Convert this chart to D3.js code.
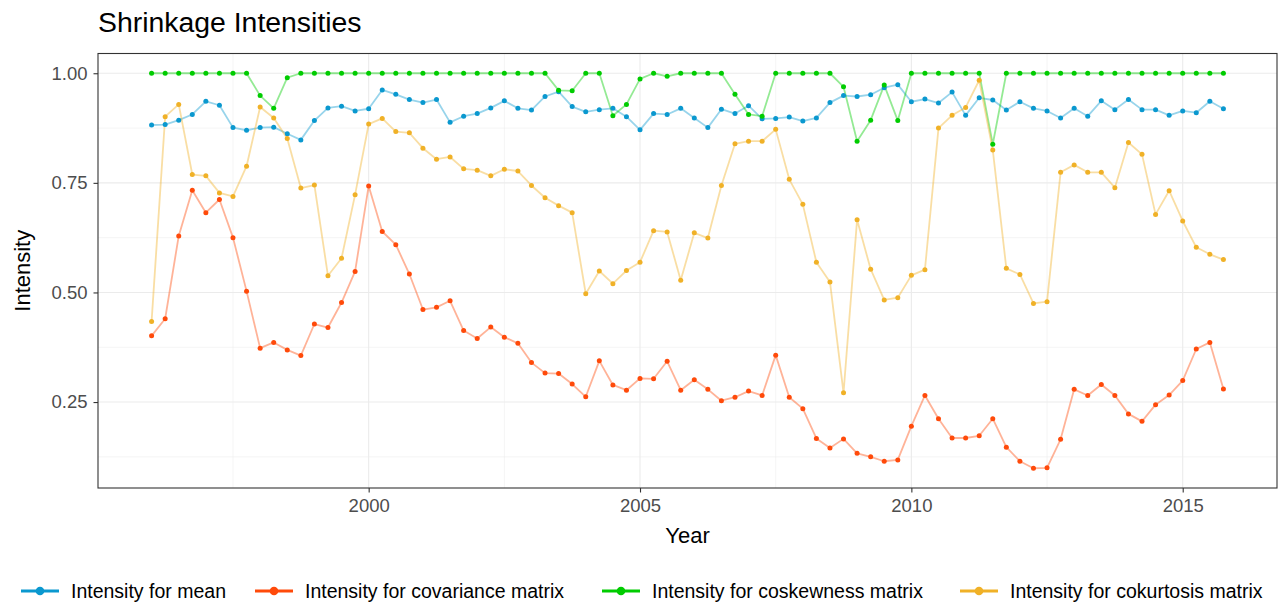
<!DOCTYPE html>
<html>
<head>
<meta charset="utf-8">
<script src="https://cdn.jsdelivr.net/npm/d3@7/dist/d3.min.js"></script>
<style>
  html, body { margin: 0; padding: 0; background: #fff; }
  svg { display: block; font-family: "Liberation Sans", Arial, Helvetica, sans-serif; }
</style>
</head>
<body>
<svg id="chart" width="1282" height="607"></svg>
<script>
// Quarterly shrinkage intensities, 1996 Q1 – 2015 Q4
const startYear = 1996;
const nQuarters = 80;

const meanIntensity = [
  0.882, 0.883, 0.893, 0.906, 0.936, 0.927, 0.876, 0.870, 0.876, 0.877,
  0.862, 0.848, 0.892, 0.921, 0.925, 0.914, 0.919, 0.962, 0.952, 0.940,
  0.933, 0.940, 0.888, 0.902, 0.908, 0.921, 0.937, 0.920, 0.916, 0.947,
  0.958, 0.924, 0.912, 0.917, 0.920, 0.901, 0.871, 0.908, 0.906, 0.920,
  0.898, 0.876, 0.918, 0.908, 0.926, 0.896, 0.897, 0.900, 0.891, 0.898,
  0.933, 0.949, 0.947, 0.951, 0.967, 0.974, 0.935, 0.941, 0.932, 0.957,
  0.904, 0.944, 0.939, 0.916, 0.935, 0.920, 0.914, 0.898, 0.920, 0.902,
  0.937, 0.917, 0.940, 0.917, 0.917, 0.904, 0.914, 0.910, 0.936, 0.919
];

const covarianceIntensity = [
  0.401, 0.440, 0.629, 0.733, 0.682, 0.712, 0.625, 0.503, 0.373, 0.386,
  0.369, 0.356, 0.428, 0.420, 0.477, 0.548, 0.743, 0.639, 0.609, 0.542,
  0.461, 0.466, 0.481, 0.413, 0.395, 0.421, 0.398, 0.384, 0.340, 0.316,
  0.315, 0.291, 0.262, 0.344, 0.289, 0.277, 0.304, 0.303, 0.343, 0.277,
  0.301, 0.279, 0.253, 0.261, 0.275, 0.265, 0.357, 0.261, 0.235, 0.167,
  0.145, 0.166, 0.133, 0.125, 0.115, 0.118, 0.195, 0.265, 0.212, 0.168,
  0.168, 0.173, 0.212, 0.147, 0.115, 0.099, 0.100, 0.165, 0.279, 0.265,
  0.290, 0.265, 0.223, 0.206, 0.244, 0.266, 0.299, 0.371, 0.386, 0.280
];

const coskewnessIntensity = [
  1.000, 1.000, 1.000, 1.000, 1.000, 1.000, 1.000, 1.000, 0.949, 0.920,
  0.990, 1.000, 1.000, 1.000, 1.000, 1.000, 1.000, 1.000, 1.000, 1.000,
  1.000, 1.000, 1.000, 1.000, 1.000, 1.000, 1.000, 1.000, 1.000, 1.000,
  0.961, 0.960, 1.000, 1.000, 0.903, 0.929, 0.987, 1.000, 0.993, 1.000,
  1.000, 1.000, 1.000, 0.952, 0.906, 0.902, 1.000, 1.000, 1.000, 1.000,
  1.000, 0.969, 0.845, 0.893, 0.973, 0.892, 1.000, 1.000, 1.000, 1.000,
  1.000, 1.000, 0.838, 1.000, 1.000, 1.000, 1.000, 1.000, 1.000, 1.000,
  1.000, 1.000, 1.000, 1.000, 1.000, 1.000, 1.000, 1.000, 1.000, 1.000
];

const cokurtosisIntensity = [
  0.434, 0.901, 0.929, 0.769, 0.766, 0.727, 0.719, 0.788, 0.923, 0.898,
  0.851, 0.738, 0.745, 0.538, 0.578, 0.723, 0.884, 0.897, 0.867, 0.864,
  0.829, 0.804, 0.809, 0.782, 0.779, 0.766, 0.781, 0.777, 0.744, 0.716,
  0.698, 0.682, 0.497, 0.549, 0.520, 0.550, 0.569, 0.641, 0.638, 0.528,
  0.636, 0.624, 0.744, 0.839, 0.845, 0.845, 0.872, 0.758, 0.701, 0.569,
  0.524, 0.271, 0.666, 0.553, 0.483, 0.488, 0.539, 0.552, 0.875, 0.904,
  0.922, 0.984, 0.825, 0.555, 0.541, 0.475, 0.479, 0.774, 0.791, 0.774,
  0.774, 0.739, 0.842, 0.815, 0.678, 0.732, 0.663, 0.603, 0.587, 0.575
];

const seriesNames = [
  "Intensity for mean",
  "Intensity for covariance matrix",
  "Intensity for coskewness matrix",
  "Intensity for cokurtosis matrix"
];
const seriesColors = ["#0A98CF", "#FF4A0A", "#00CC00", "#F0B127"];
const seriesValues = [meanIntensity, covarianceIntensity, coskewnessIntensity, cokurtosisIntensity];

const xTicks = [2000, 2005, 2010, 2015];
const xMinorTicks = [1997.5, 2002.5, 2007.5, 2012.5];
const yTicks = [0.25, 0.50, 0.75, 1.00];
const yMinorTicks = [0.125, 0.375, 0.625, 0.875];

const quarters = d3.range(nQuarters).map(i => startYear + i / 4);

const panel = { left: 98, right: 1277, top: 53.5, bottom: 488 };

// Data range padded by 5% on each side
const xExt = d3.extent(quarters);
const xPad = (xExt[1] - xExt[0]) * 0.05;
const allVals = seriesValues.flat();
const yExt = d3.extent(allVals);
const yPad = (yExt[1] - yExt[0]) * 0.05;

const x = d3.scaleLinear().domain([xExt[0] - xPad, xExt[1] + xPad]).range([panel.left, panel.right]);
const y = d3.scaleLinear().domain([yExt[0] - yPad, yExt[1] + yPad]).range([panel.bottom, panel.top]);

const svg = d3.select("#chart");

// Grid
const grid = svg.append("g");
grid.selectAll("line.xminor").data(xMinorTicks).join("line")
  .attr("x1", d => x(d)).attr("x2", d => x(d))
  .attr("y1", panel.top).attr("y2", panel.bottom)
  .attr("stroke", "#EBEBEB").attr("stroke-width", 0.55);
grid.selectAll("line.yminor").data(yMinorTicks).join("line")
  .attr("y1", d => y(d)).attr("y2", d => y(d))
  .attr("x1", panel.left).attr("x2", panel.right)
  .attr("stroke", "#EBEBEB").attr("stroke-width", 0.55);
grid.selectAll("line.xmajor").data(xTicks).join("line")
  .attr("x1", d => x(d)).attr("x2", d => x(d))
  .attr("y1", panel.top).attr("y2", panel.bottom)
  .attr("stroke", "#EBEBEB").attr("stroke-width", 1.1);
grid.selectAll("line.ymajor").data(yTicks).join("line")
  .attr("y1", d => y(d)).attr("y2", d => y(d))
  .attr("x1", panel.left).attr("x2", panel.right)
  .attr("stroke", "#EBEBEB").attr("stroke-width", 1.1);

// Lines
const line = d3.line().x((d, i) => x(quarters[i])).y(d => y(d));
seriesValues.forEach((vals, k) => {
  svg.append("path")
    .datum(vals)
    .attr("d", line)
    .attr("fill", "none")
    .attr("stroke", seriesColors[k])
    .attr("stroke-opacity", 0.42)
    .attr("stroke-width", 1.8)
    .attr("stroke-linejoin", "round");
});

// Points
seriesValues.forEach((vals, k) => {
  svg.append("g").selectAll("circle").data(vals).join("circle")
    .attr("cx", (d, i) => x(quarters[i]))
    .attr("cy", d => y(d))
    .attr("r", 2.5)
    .attr("fill", seriesColors[k]);
});

// Panel border
svg.append("rect")
  .attr("x", panel.left).attr("y", panel.top)
  .attr("width", panel.right - panel.left).attr("height", panel.bottom - panel.top)
  .attr("fill", "none").attr("stroke", "#333333").attr("stroke-width", 1.1);

// Axes
const xAxis = svg.append("g")
  .attr("transform", `translate(0,${panel.bottom})`)
  .call(d3.axisBottom(x).tickValues(xTicks).tickFormat(d3.format("d")).tickSize(4.5).tickPadding(6));
const yAxis = svg.append("g")
  .attr("transform", `translate(${panel.left},0)`)
  .call(d3.axisLeft(y).tickValues(yTicks).tickFormat(d3.format(".2f")).tickSize(4.5).tickPadding(6));
[xAxis, yAxis].forEach(a => {
  a.select(".domain").remove();
  a.selectAll(".tick line").attr("stroke", "#333333").attr("stroke-width", 1.1);
  a.selectAll(".tick text")
    .attr("fill", "#4D4D4D")
    .style("font-size", "18.5px")
    .style("font-family", "'Liberation Sans', Arial, sans-serif");
});

// Titles
svg.append("text")
  .attr("x", panel.left).attr("y", 32)
  .attr("fill", "#000")
  .style("font-size", "28.4px")
  .text("Shrinkage Intensities");

svg.append("text")
  .attr("x", (panel.left + panel.right) / 2).attr("y", 543)
  .attr("text-anchor", "middle")
  .attr("fill", "#000")
  .style("font-size", "22px")
  .text("Year");

svg.append("text")
  .attr("transform", `translate(29.5,${(panel.top + panel.bottom) / 2}) rotate(-90)`)
  .attr("text-anchor", "middle")
  .attr("fill", "#000")
  .style("font-size", "22px")
  .text("Intensity");

// Legend
const legendKeyCenters = [40, 274, 621, 979];
const legendY = 591;
const legend = svg.append("g");
seriesNames.forEach((name, k) => {
  const cx = legendKeyCenters[k];
  const g = legend.append("g");
  g.append("line")
    .attr("x1", cx - 19).attr("x2", cx + 19)
    .attr("y1", legendY).attr("y2", legendY)
    .attr("stroke", seriesColors[k]).attr("stroke-width", 3);
  g.append("circle")
    .attr("cx", cx).attr("cy", legendY).attr("r", 4.3)
    .attr("fill", seriesColors[k]);
  g.append("text")
    .attr("x", cx + 31).attr("y", legendY + 6.8)
    .attr("fill", "#000")
    .style("font-size", "19.5px")
    .text(name);
});
</script>
</body>
</html>
